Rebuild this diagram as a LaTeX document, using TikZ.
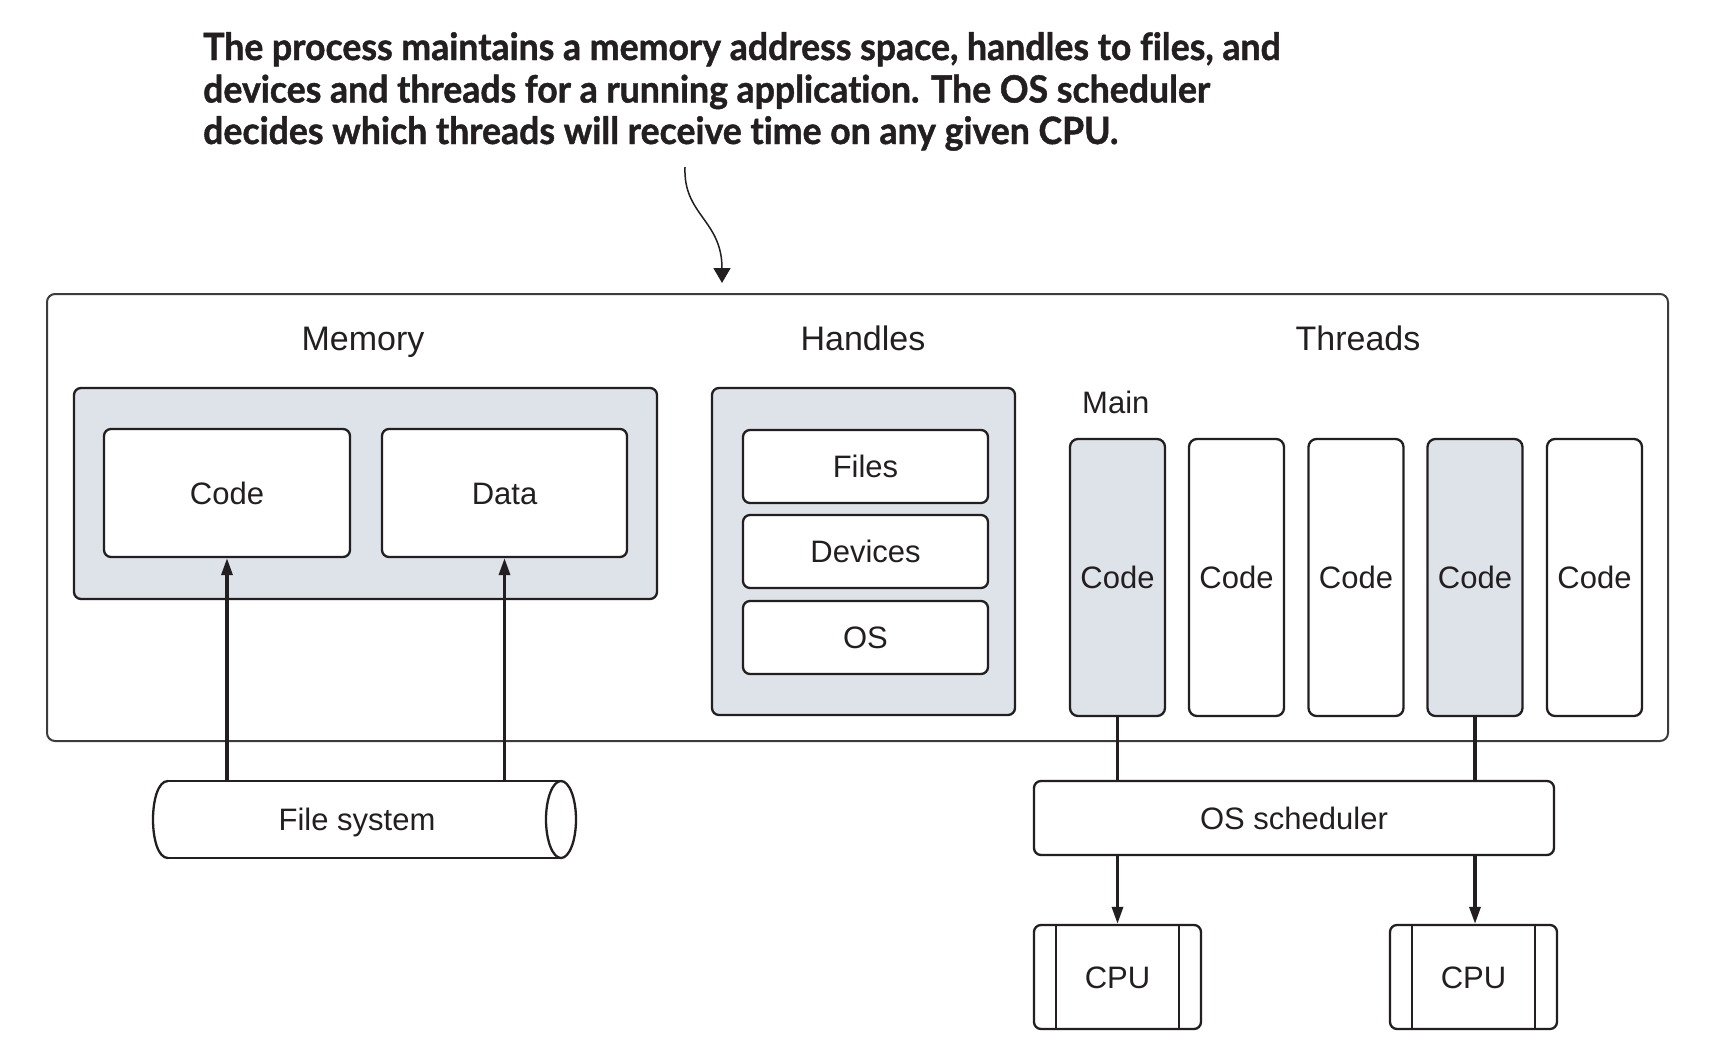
\documentclass[tikz,border=0pt]{standalone}
\usepackage{fontspec}
\setmainfont{Liberation Sans}
\newfontfamily\titlefont{Lato}[FakeStretch=0.95, FakeBold=1.2, Ligatures=NoCommon]
\usetikzlibrary{arrows.meta}
\definecolor{ln}{HTML}{231F20}
\definecolor{gfill}{HTML}{DEE2E9}
\definecolor{outerln}{HTML}{3C3C3C}
\begin{document}
\begin{tikzpicture}[x=1pt,y=-1pt,
  every node/.style={inner sep=0pt, text=ln},
  bodyfont/.style={font=\fontsize{31}{37}\selectfont},
  headfont/.style={font=\fontsize{34}{40}\selectfont},
  titletext/.style={font=\titlefont\bfseries\fontsize{37.5}{42}\selectfont, anchor=base west},
  rbox/.style={draw=ln, line width=2.3pt, rounded corners=7pt, fill=white, bodyfont, text height=22.2pt, text depth=0pt},
  gbox/.style={draw=ln, line width=2.3pt, rounded corners=7pt, fill=gfill},
  outerbox/.style={draw=outerln, line width=2pt, rounded corners=8pt},
  thr/.style={rbox, minimum width=95pt, minimum height=277pt, rounded corners=8pt},
  cpubox/.style={rbox, minimum width=167pt, minimum height=104pt},
  arr/.style={draw=ln, line width=3.2pt, -{Triangle[width=11pt,length=17pt]}},
  conn/.style={draw=ln, line width=3.2pt},
  thinarr/.style={draw=ln, line width=1.5pt, -{Triangle[width=17pt,length=15pt]}},
  cyl/.style={draw=ln, line width=2.3pt}
]
\useasboundingbox (0,0) rectangle (1724,1055);
\fill[white] (0,0) rectangle (1724,1055);

% title
\node[titletext] (title1) at (203,60) {The process maintains a memory address space, handles to files, and};
\node[titletext] (title2) at (203,102.5) {devices and threads for a running application. The OS scheduler};
\node[titletext] (title3) at (203,144) {decides which threads will receive time on any given CPU.};

% outer process box
\node[outerbox, minimum width=1621pt, minimum height=447pt] (proc) at (857.5,517.5) {};

% headers
\node[headfont, anchor=base] (memlbl) at (363,350) {Memory};
\node[headfont, anchor=base] (hndlbl) at (863,350) {Handles};
\node[headfont, anchor=base] (thrlbl) at (1358,350) {Threads};
\node[bodyfont, anchor=base west] (mainlbl) at (1082,413) {Main};

% memory
\node[gbox, minimum width=583pt, minimum height=211pt] (mem) at (365.5,493.5) {};
\node[rbox, minimum width=246pt, minimum height=128pt] (code) at (227,493) {Code};
\node[rbox, minimum width=245pt, minimum height=128pt] (data) at (504.5,493) {Data};

% handles
\node[gbox, minimum width=303pt, minimum height=327pt] (hand) at (863.5,551.5) {};
\node[rbox, minimum width=245pt, minimum height=73pt] (files) at (865.5,466.5) {Files};
\node[rbox, minimum width=245pt, minimum height=73pt] (dev) at (865.5,551.5) {Devices};
\node[rbox, minimum width=245pt, minimum height=73pt] (os) at (865.5,637.5) {OS};

% threads
\node[thr, fill=gfill] (t1) at (1117.5,577.5) {Code};
\node[thr] (t2) at (1236.5,577.5) {Code};
\node[thr] (t3) at (1356,577.5) {Code};
\node[thr, fill=gfill] (t4) at (1475,577.5) {Code};
\node[thr] (t5) at (1594.5,577.5) {Code};

% file system cylinder
\draw[cyl] (168,781) -- (561,781);
\draw[cyl] (168,858) -- (561,858);
\draw[cyl] (168,781) .. controls (148,781) and (148,858) .. (168,858);
\draw[cyl] (561,819.5) ellipse [x radius=15pt, y radius=38.5pt];
\node[bodyfont, text height=22.2pt, text depth=0pt, minimum width=393pt, minimum height=77pt] (fs) at (357,819.5) {File system};

% scheduler and CPUs
\node[rbox, minimum width=520pt, minimum height=74pt] (sched) at (1294,818) {OS scheduler};
\node[cpubox] (cpu1) at (1117.5,977) {CPU};
\node[cpubox] (cpu2) at (1473.5,977) {CPU};
\foreach \c in {cpu1,cpu2}{
  \draw[draw=ln, line width=2.3pt] ([xshift=23pt]\c.north west) -- ([xshift=23pt]\c.south west);
  \draw[draw=ln, line width=2.3pt] ([xshift=-23pt]\c.north east) -- ([xshift=-23pt]\c.south east);
}

% connectors
\draw[arr] (code.south |- fs.north) -- (code.south);
\draw[arr] (data.south |- fs.north) -- (data.south);
\draw[conn] (t1.south) -- (t1.south |- sched.north);
\draw[conn] (t4.south) -- (t4.south |- sched.north);
\draw[arr] (sched.south -| cpu1.north) -- (cpu1.north);
\draw[arr] (sched.south -| t4.south) -- (t4.south |- cpu2.north);

% annotation arrow
\coordinate (cs) at (685,167);
\coordinate (ce) at (722,283);
\draw[thinarr] (cs) .. controls (683,215) and (722,220) .. (ce);
\end{tikzpicture}
\end{document}
